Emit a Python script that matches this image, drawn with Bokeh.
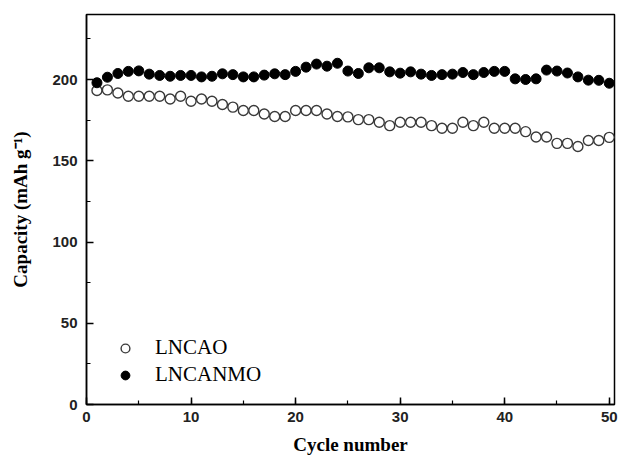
from bokeh.plotting import figure
from bokeh.models import Range1d, SingleIntervalTicker, Legend, LegendItem
from bokeh.embed import file_html
from bokeh.resources import INLINE

cycles = list(range(1, 51))
lncao = [193.2, 193.6, 191.7, 189.7, 189.7, 189.7, 189.7, 188.0, 189.7, 186.6,
         188.0, 186.6, 184.6, 183.0, 180.9, 180.9, 178.8, 177.2, 177.2, 180.9,
         180.9, 180.9, 178.8, 177.2, 177.0, 175.3, 175.3, 173.7, 171.6, 173.7,
         173.7, 173.7, 171.6, 170.0, 170.0, 173.7, 171.6, 173.7, 170.0, 170.0,
         170.0, 167.9, 164.6, 164.6, 160.7, 160.7, 158.8, 162.5, 162.5, 164.4]
lncanmo = [198.0, 201.4, 203.7, 205.0, 205.3, 203.3, 202.5, 202.0, 202.5, 202.5,
           201.6, 202.0, 203.5, 203.0, 201.6, 201.6, 202.7, 203.5, 203.0, 205.0,
           207.6, 209.5, 208.2, 210.0, 205.2, 203.7, 207.2, 207.2, 204.7, 203.9,
           204.7, 203.3, 202.5, 203.0, 203.3, 204.3, 203.0, 204.3, 205.0, 205.0,
           200.4, 200.0, 200.4, 205.8, 205.2, 204.0, 201.6, 199.6, 199.5, 197.7]

p = figure(width=618, height=460, output_backend="svg", toolbar_location=None,
           x_range=Range1d(0, 50.5), y_range=Range1d(0, 240),
           min_border_left=86, min_border_right=4, min_border_top=14, min_border_bottom=56)

p.xgrid.visible = False
p.ygrid.visible = False
p.outline_line_color = "black"
p.outline_line_width = 1.5
p.background_fill_color = "white"
p.border_fill_color = "white"

r1 = p.scatter(cycles, lncao, size=10, marker="circle", fill_color="white",
               line_color="#3a3a3a", line_width=1.4)
r2 = p.scatter(cycles, lncanmo, size=10, marker="circle", fill_color="black",
               line_color="black", line_width=1)

p.xaxis.ticker = SingleIntervalTicker(interval=10, num_minor_ticks=2)
p.yaxis.ticker = SingleIntervalTicker(interval=50, num_minor_ticks=2)

for ax in (p.xaxis, p.yaxis):
    ax.axis_line_color = "black"
    ax.axis_line_width = 1.5
    ax.major_tick_in = 7
    ax.major_tick_out = 0
    ax.minor_tick_in = 4
    ax.minor_tick_out = 0
    ax.major_tick_line_width = 1.5
    ax.minor_tick_line_width = 1.2
    ax.major_label_text_font = "Liberation Sans"
    ax.major_label_text_font_style = "bold"
    ax.major_label_text_font_size = "15px"
    ax.major_label_text_color = "#222222"
    ax.axis_label_text_font = "Liberation Serif"
    ax.axis_label_text_font_style = "bold"
    ax.axis_label_text_font_size = "19px"
    ax.axis_label_text_color = "black"

p.xaxis.axis_label = "Cycle number"
p.yaxis.axis_label = "Capacity (mAh g\u207b\u00b9)"
p.xaxis.major_label_standoff = 7
p.yaxis.major_label_standoff = 9
p.xaxis.axis_label_standoff = 9
p.yaxis.axis_label_standoff = 18

legend = Legend(items=[LegendItem(label="LNCAO", renderers=[r1]),
                       LegendItem(label="LNCANMO", renderers=[r2])],
                location=(28, 17))
legend.border_line_color = None
legend.background_fill_alpha = 0
legend.label_text_font = "Liberation Serif"
legend.label_text_font_size = "21px"
legend.label_text_color = "black"
legend.glyph_width = 22
legend.glyph_height = 24
legend.spacing = 2
legend.label_standoff = 19
p.add_layout(legend)

open("out.html", "w").write(file_html(p, INLINE))
